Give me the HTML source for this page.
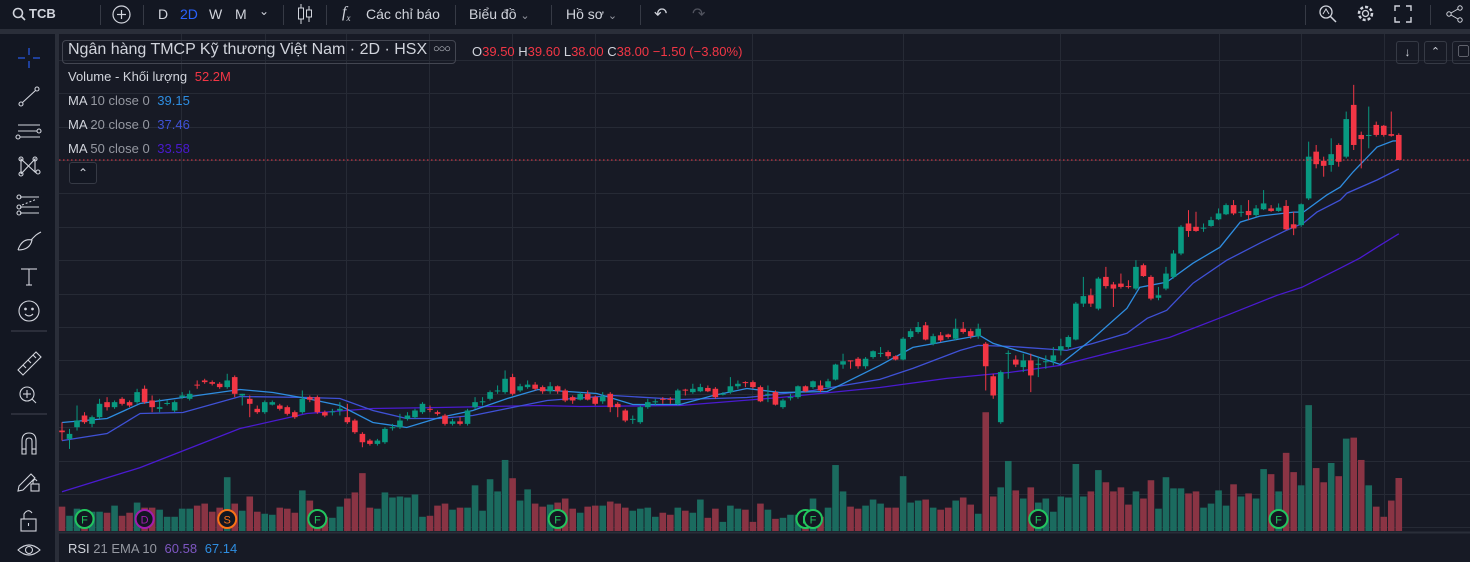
<!DOCTYPE html>
<html><head><meta charset="utf-8">
<style>
html,body{margin:0;padding:0;background:#131722;width:1470px;height:562px;overflow:hidden;font-family:"Liberation Sans","Noto Sans CJK SC",sans-serif;}
.t{position:absolute;white-space:nowrap;color:#d1d4dc;}
#top{position:absolute;left:0;top:0;width:1470px;height:29px;background:#131722;}
#gap{position:absolute;left:0;top:29px;width:1470px;height:5px;background:#2a2e39;}
#left{position:absolute;left:0;top:34px;width:55px;height:528px;background:#131722;}
#lsep{position:absolute;left:55px;top:34px;width:4px;height:528px;background:#2a2e39;}
.sep{position:absolute;top:5px;width:1px;height:20px;background:#363a45;}
</style></head><body>
<div id="top">
  <svg style="position:absolute;left:12px;top:7px" width="14" height="14"><circle cx="6" cy="6" r="4.5" fill="none" stroke="#d1d4dc" stroke-width="1.6"/><line x1="9.5" y1="9.5" x2="13" y2="13" stroke="#d1d4dc" stroke-width="1.6"/></svg>
  <span class="t" style="left:29px;top:6px;font-size:13px;font-weight:bold">TCB</span>
  <svg style="position:absolute;left:111px;top:4px" width="21" height="21"><circle cx="10.5" cy="10.5" r="8.5" fill="none" stroke="#d1d4dc" stroke-width="1.2"/><line x1="10.5" y1="6" x2="10.5" y2="15" stroke="#d1d4dc" stroke-width="1.2"/><line x1="6" y1="10.5" x2="15" y2="10.5" stroke="#d1d4dc" stroke-width="1.2"/></svg>
  <div class="sep" style="left:100px"></div>
  <div class="sep" style="left:143px"></div>
  <span class="t" style="left:158px;top:6px;font-size:14px">D</span>
  <span class="t" style="left:180px;top:6px;font-size:14px;color:#2962ff">2D</span>
  <span class="t" style="left:209px;top:6px;font-size:14px">W</span>
  <span class="t" style="left:235px;top:6px;font-size:14px">M</span>
  <span class="t" style="left:259px;top:4px;font-size:12px">⌄</span>
  <div class="sep" style="left:283px"></div>
  <svg style="position:absolute;left:296px;top:3px" width="18" height="22"><line x1="5" y1="1" x2="5" y2="21" stroke="#d1d4dc"/><rect x="2.5" y="5" width="5" height="11" fill="#131722" stroke="#d1d4dc"/><line x1="13" y1="3" x2="13" y2="19" stroke="#d1d4dc"/><rect x="10.5" y="7" width="5" height="7" fill="#131722" stroke="#d1d4dc"/></svg>
  <div class="sep" style="left:326px"></div>
  <span class="t" style="left:342px;top:4px;font-size:16px;font-style:italic;font-family:'Liberation Serif',serif">f<sub style="font-size:9px">x</sub></span>
  <span class="t" style="left:366px;top:6px;font-size:14px">Các chỉ báo</span>
  <div class="sep" style="left:455px"></div>
  <span class="t" style="left:469px;top:6px;font-size:14px">Biểu đồ <span style="color:#9598a1;font-size:11px">⌄</span></span>
  <div class="sep" style="left:551px"></div>
  <span class="t" style="left:566px;top:6px;font-size:14px">Hồ sơ <span style="color:#9598a1;font-size:11px">⌄</span></span>
  <div class="sep" style="left:640px"></div>
  <span class="t" style="left:654px;top:4px;font-size:16px">↶</span>
  <span class="t" style="left:692px;top:4px;font-size:16px;color:#50535e">↷</span>
  <div class="sep" style="left:1305px"></div>
  <svg style="position:absolute;left:1318px;top:4px" width="20" height="20"><circle cx="8" cy="8" r="6" fill="none" stroke="#d1d4dc" stroke-width="1.3"/><line x1="12.5" y1="12.5" x2="18" y2="18" stroke="#d1d4dc" stroke-width="1.5"/><polyline points="5,10 8,5 11,10" fill="none" stroke="#d1d4dc"/></svg>
  <svg style="position:absolute;left:1355px;top:3px" width="21" height="21"><circle cx="10.5" cy="10.5" r="6.5" fill="none" stroke="#d1d4dc" stroke-width="2.5" stroke-dasharray="3 2"/><circle cx="10.5" cy="10.5" r="3" fill="none" stroke="#d1d4dc" stroke-width="1.3"/></svg>
  <svg style="position:absolute;left:1394px;top:5px" width="18" height="18"><path d="M1 6V1h5M12 1h5v5M17 12v5h-5M6 17H1v-5" fill="none" stroke="#d1d4dc" stroke-width="1.4"/></svg>
  <div class="sep" style="left:1430px"></div>
  <svg style="position:absolute;left:1445px;top:4px" width="20" height="20"><circle cx="15" cy="4" r="2.2" fill="none" stroke="#d1d4dc"/><circle cx="4" cy="10" r="2.2" fill="none" stroke="#d1d4dc"/><circle cx="15" cy="16" r="2.2" fill="none" stroke="#d1d4dc"/><line x1="6" y1="9" x2="13" y2="5" stroke="#d1d4dc"/><line x1="6" y1="11" x2="13" y2="15" stroke="#d1d4dc"/></svg>
</div>
<div id="gap"></div>
<div id="left">
<svg width="55" height="528" style="position:absolute;left:0;top:0" fill="none" stroke="#d1d4dc" stroke-width="1.1">
  <g stroke="#2962ff"><line x1="29" y1="14" x2="29" y2="21"/><line x1="29" y1="27" x2="29" y2="34"/><line x1="18" y1="24" x2="25" y2="24"/><line x1="33" y1="24" x2="40" y2="24"/></g>
  <g><circle cx="21" cy="70" r="2"/><circle cx="37" cy="55" r="2"/><line x1="22.5" y1="68.5" x2="35.5" y2="56.5"/></g>
  <g><line x1="18" y1="91" x2="40" y2="91"/><line x1="18" y1="97" x2="37" y2="97"/><line x1="20" y1="103" x2="40" y2="103"/><circle cx="39" cy="97" r="2"/><circle cx="18" cy="103" r="2"/></g>
  <g><circle cx="21" cy="125" r="2"/><circle cx="35" cy="125" r="2"/><circle cx="21" cy="140" r="2"/><circle cx="38" cy="138" r="2"/><polyline points="21,140 21,125 35,138 35,125 21,140"/></g>
  <g><line x1="20" y1="163" x2="39" y2="163"/><line x1="20" y1="173" x2="39" y2="173"/><line x1="20" y1="179" x2="39" y2="179"/><circle cx="19" cy="163" r="2"/><circle cx="19" cy="173" r="2"/><circle cx="19" cy="179" r="2"/><line x1="22" y1="171" x2="37" y2="165" stroke-dasharray="2 2"/></g>
  <g><path d="M18 216 Q22 204 32 206 Q30 216 18 216 M31 206 L35 202 Q37 200 41 198"/></g>
  <g><line x1="21" y1="235" x2="37" y2="235"/><line x1="29" y1="235" x2="29" y2="251"/><line x1="26" y1="251" x2="32" y2="251"/></g>
  <g><circle cx="29" cy="277" r="10"/><circle cx="25.5" cy="275" r="0.8" fill="#d1d4dc"/><circle cx="32.5" cy="275" r="0.8" fill="#d1d4dc"/><path d="M25 280 Q29 284 33 280"/></g>
  <line x1="11" y1="297" x2="47" y2="297" stroke="#434651"/>
  <g><path d="M18 336 L36 318 L41 323 L23 341 Z"/><line x1="23" y1="331" x2="26" y2="334"/><line x1="28" y1="326" x2="31" y2="329"/><line x1="33" y1="321" x2="36" y2="324"/></g>
  <g><circle cx="27" cy="360" r="7"/><line x1="32" y1="365" x2="36" y2="369"/><line x1="27" y1="356" x2="27" y2="364"/><line x1="23" y1="360" x2="31" y2="360"/></g>
  <line x1="11" y1="380" x2="47" y2="380" stroke="#434651"/>
  <g><path d="M22 420 V407 Q22 399 29 399 Q36 399 36 407 V420 H32 V407 Q32 404 29 404 Q26 404 26 407 V420 Z"/><line x1="22" y1="415" x2="26" y2="415"/><line x1="32" y1="415" x2="36" y2="415"/></g>
  <g><path d="M19 452 L31 440 L35 444 L23 456 L18 457 Z"/><rect x="31" y="450" width="8" height="7"/><path d="M33 450 V447 Q35 444 37 447"/></g>
  <g><rect x="21" y="485" width="15" height="12"/><path d="M24 485 V480 Q28 474 32 479"/><line x1="28.5" y1="489" x2="28.5" y2="492"/></g>
  <g><path d="M18 516 Q29 506 40 516 Q29 526 18 516 Z"/><circle cx="29" cy="516" r="3.5"/></g>
</svg>
</div>
<div id="lsep"></div>
<svg id="chart" style="position:absolute;left:0;top:0" width="1470" height="562"></svg>

<div class="t" style="left:62px;top:40px;width:392px;height:22px;border:1px solid #434651;border-radius:4px;"></div>
<span class="t" style="left:68px;top:41px;font-size:16px;color:#d1d4dc">Ngân hàng TMCP Kỹ thương Việt Nam · 2D · HSX</span>
<span class="t" style="left:433px;top:43px;font-size:11px;letter-spacing:-1px">○○○</span>
<span class="t" style="left:472px;top:44px;font-size:13px">O<span style="color:#f23645">39.50</span> H<span style="color:#f23645">39.60</span> L<span style="color:#f23645">38.00</span> C<span style="color:#f23645">38.00</span> <span style="color:#f23645">−1.50 (−3.80%)</span></span>
<span class="t" style="left:68px;top:69px;font-size:13px">Volume - Khối lượng <span style="color:#f23645;margin-left:4px">52.2M</span></span>
<span class="t" style="left:68px;top:93px;font-size:13px">MA <span style="color:#9598a1">10 close 0</span> <span style="color:#2e8de0;margin-left:4px">39.15</span></span>
<span class="t" style="left:68px;top:117px;font-size:13px">MA <span style="color:#9598a1">20 close 0</span> <span style="color:#3f51d6;margin-left:4px">37.46</span></span>
<span class="t" style="left:68px;top:141px;font-size:13px">MA <span style="color:#9598a1">50 close 0</span> <span style="color:#4a1ad0;margin-left:4px">33.58</span></span>
<div class="t" style="left:69px;top:162px;width:26px;height:20px;border:1px solid #363a45;border-radius:3px;background:#131722;text-align:center;font-size:12px;line-height:20px">⌃</div>
<div class="t" style="left:1396px;top:41px;width:21px;height:21px;border:1px solid #363a45;border-radius:3px;text-align:center;font-size:12px;line-height:21px">↓</div>
<div class="t" style="left:1424px;top:41px;width:21px;height:21px;border:1px solid #363a45;border-radius:3px;text-align:center;font-size:11px;line-height:21px">⌃</div>
<div class="t" style="left:1452px;top:41px;width:21px;height:21px;border:1px solid #363a45;border-radius:3px;text-align:center;font-size:11px;line-height:21px">▢</div>
<span class="t" style="left:68px;top:541px;font-size:13px">RSI <span style="color:#9598a1">21 EMA 10</span> <span style="color:#7e57c2;margin-left:4px">60.58</span> <span style="color:#2e8de0;margin-left:4px">67.14</span></span>

<script>
const opens=[21.8,21.3,22.0,22.7,22.2,22.6,23.5,23.2,23.7,23.5,23.5,24.3,23.6,23.1,23.4,23.0,23.8,23.7,24.55,24.8,24.7,24.6,24.4,25.0,23.9,23.7,23.1,22.9,23.35,23.3,23.2,22.9,22.9,23.8,23.8,22.9,22.9,23.0,22.6,22.4,21.6,21.2,21.0,21.1,21.95,22.0,22.5,22.6,22.9,23.1,22.9,22.7,22.2,22.35,22.2,23.2,23.5,23.7,24.15,24.1,25.0,24.2,24.4,24.55,24.4,24.15,24.45,24.2,23.8,23.65,24.0,23.8,23.55,24.0,23.4,23.0,22.45,22.3,23.2,23.5,23.7,23.7,23.4,24.25,24.1,24.15,24.35,24.3,23.95,24.1,24.45,24.7,24.7,24.4,23.95,24.1,23.2,23.75,23.8,24.45,24.4,24.5,24.4,24.85,25.75,26.0,26.1,25.65,26.2,26.4,26.5,26.25,26.05,27.4,27.7,28.1,27.0,27.5,27.55,27.3,27.9,27.75,27.45,27.0,25.05,22.3,26.4,26.05,25.6,26.0,25.75,25.9,25.95,26.6,26.8,27.25,29.4,29.9,29.1,31.0,30.55,30.6,30.45,30.3,31.7,31.0,29.75,30.3,31.0,32.4,34.2,34.0,33.9,34.05,34.45,34.75,35.3,34.85,34.95,34.7,35.05,35.1,34.95,35.25,34.15,34.1,35.7,38.5,37.95,37.7,38.9,38.2,41.3,39.5,39.45,40.1,40.05,39.55,39.5];
const closes=[21.7,21.6,22.4,22.3,22.6,23.4,23.2,23.5,23.4,23.3,24.1,23.5,23.2,23.2,23.45,23.5,23.9,24.0,24.5,24.7,24.6,24.4,24.8,24.0,24.0,23.4,22.9,23.5,23.5,23.1,22.8,22.6,23.7,23.65,22.9,22.7,22.95,23.1,22.3,21.7,21.1,21.0,21.2,21.9,22.0,22.4,22.7,23.0,23.4,23.05,22.8,22.2,22.35,22.2,23.0,23.5,23.55,24.1,24.2,24.9,24.0,24.45,24.55,24.3,24.15,24.45,24.15,23.6,23.6,24.0,23.65,23.4,23.85,23.2,23.2,22.4,22.5,23.2,23.5,23.55,23.65,23.65,24.2,24.2,24.3,24.4,24.15,23.8,24.0,24.45,24.6,24.65,24.4,23.55,24.0,23.35,23.6,23.8,24.45,24.15,24.75,24.2,24.75,25.75,25.95,25.95,25.65,26.1,26.55,26.45,26.25,26.05,27.3,27.75,28.0,27.25,27.45,27.2,27.4,27.9,27.7,27.45,27.9,25.65,23.9,25.3,26.45,25.75,26.0,25.1,25.8,25.95,26.3,26.85,27.4,29.4,29.85,29.4,30.9,30.45,30.3,30.4,30.4,31.6,31.05,29.7,29.9,31.2,32.4,34.0,33.75,33.75,33.95,34.4,34.8,35.3,34.8,34.9,34.7,35.1,35.4,34.95,35.15,33.85,33.9,35.35,38.2,37.75,37.65,38.35,37.9,40.45,38.9,39.25,39.5,39.5,39.5,39.45,38.0];
const highs=[22.3,21.9,23.3,22.9,22.7,23.7,23.8,23.6,23.8,23.6,24.3,24.5,23.9,23.7,23.6,23.6,24.1,24.2,24.8,24.9,24.8,24.7,25.2,25.1,24.0,23.9,23.3,23.6,23.6,23.4,23.3,23.0,24.2,23.9,23.9,23.0,23.1,23.5,23.4,22.5,21.7,21.3,21.3,22.0,22.2,22.8,22.9,23.1,23.5,23.3,23.0,22.8,22.5,22.6,23.1,23.8,23.8,24.2,24.5,25.4,25.2,24.6,24.8,24.7,24.5,24.7,24.5,24.3,23.9,24.1,24.2,23.9,24.1,24.1,23.5,23.1,22.7,23.3,23.7,23.7,23.8,23.8,24.3,24.3,24.6,24.6,24.5,24.4,24.1,25.0,24.8,24.75,24.8,24.5,24.5,24.2,23.7,24.0,24.5,24.5,24.8,24.8,24.9,25.8,26.4,26.0,26.2,26.2,26.6,26.8,26.6,26.3,27.4,27.9,28.3,28.3,27.6,27.7,27.6,28.5,28.3,27.9,28.2,27.1,25.2,25.4,26.6,26.3,26.4,26.4,26.2,26.3,26.8,27.3,27.5,29.5,31.0,30.3,31.0,31.6,30.7,31.2,30.8,32.0,31.8,31.1,30.4,31.6,32.6,34.1,35.0,34.9,34.2,34.6,35.1,35.4,35.6,35.3,35.6,35.3,36.2,35.3,35.4,35.6,34.9,35.4,39.1,38.9,38.2,39.3,39.0,40.9,42.5,39.7,41.2,40.3,40.1,40.9,39.6];
const lows=[21.2,20.7,21.8,22.2,22.0,22.5,23.0,23.1,23.3,23.2,23.4,23.4,22.9,22.9,23.3,22.9,23.7,23.6,24.3,24.6,24.5,24.3,24.3,23.8,23.3,22.6,22.8,22.8,23.3,23.0,22.7,22.5,22.8,23.5,22.8,22.6,22.7,22.7,22.2,21.6,20.8,20.9,20.9,21.0,21.8,21.9,22.4,22.5,22.8,22.9,22.7,22.1,22.1,22.1,22.1,23.1,23.3,23.6,24.0,24.0,23.9,24.1,24.3,24.2,24.0,24.0,24.0,23.5,23.4,23.6,23.6,23.3,23.4,22.9,22.6,22.3,22.2,22.2,23.1,23.3,23.4,23.4,23.3,23.9,24.0,24.1,24.1,23.7,23.9,24.0,24.3,24.4,24.3,23.5,23.5,23.3,23.1,23.6,23.7,24.1,24.3,24.1,24.3,24.8,25.5,25.5,25.5,25.5,26.1,26.2,26.1,26.0,26.0,27.3,27.6,27.2,26.9,27.1,27.3,27.2,27.6,27.3,27.3,24.2,23.7,22.2,24.9,25.6,25.3,24.1,25.0,25.5,25.7,26.3,26.7,27.2,29.2,29.2,29.0,30.3,29.2,30.3,30.3,30.2,31.0,29.6,29.6,30.2,30.9,32.3,33.4,33.7,33.7,34.0,34.4,34.7,34.7,34.6,34.4,34.6,35.0,34.9,34.9,33.8,33.5,34.0,35.6,37.5,37.0,37.3,37.6,38.1,38.6,37.5,38.7,39.4,39.4,39.4,38.0];
const volumes=[24,15,22,18,19,19,18,25,15,18,28,23,23,21,14,14,22,22,25,27,19,23,53,27,20,34,19,17,16,23,22,18,40,30,18,14,13,24,32,38,57,23,22,38,33,34,33,36,14,15,25,27,21,23,23,45,20,51,39,70,52,30,41,27,24,26,28,32,22,18,24,25,25,29,27,23,20,22,23,14,18,16,23,20,18,31,13,22,9,25,22,21,9,27,21,12,13,16,16,18,32,14,23,65,39,24,22,25,31,27,23,23,54,28,30,31,23,21,23,30,33,26,17,117,34,43,69,40,32,43,28,32,19,34,33,66,34,39,60,48,39,43,26,39,32,50,22,53,42,42,37,39,23,27,40,25,46,34,37,32,61,56,39,77,58,45,124,62,48,67,54,91,92,70,45,24,14,30,52.2];
const ma10Idx=[0,6,10.4,16.1,23.7,28.1,32.6,37,41.4,45.9,50.3,54.7,59.3,63.4,71.2,76,82.3,86.7,91.2,95.6,101.9,108.9,113.3,122.2,124,128.5,132.9,137.3,141.8,143.5,147.1,150.6,154.2,156.9,159.5,164,165.3,168.4,170.2,171.9,175.1,177.2,178];
const ma10Val=[22.28,22.52,23.42,23.78,24.26,24.08,23.72,23.3,22.28,21.98,22.58,23.0,23.72,24.26,24.02,23.36,23.36,23.9,24.32,24.08,24.14,25.7,26.78,27.5,27.02,26.42,25.76,27.32,29.12,30.38,30.68,31.82,32.78,34.28,34.64,34.88,34.88,35.9,36.38,37.28,38.78,39.14,39.15];
const ma20Idx=[0,6,10.4,16.1,23.7,32.6,37,41.4,45.9,50.3,54.7,59.3,64.6,73.4,82.3,91.2,100,108.9,113.3,119.6,122,126.2,133.8,137.3,141.8,144.5,147.1,150.6,155.1,159.5,163.1,165.3,167.1,170.2,171.1,175.1,178];
const ma20Val=[21.2,21.62,22.82,22.88,23.84,23.78,23.72,23.0,22.52,22.52,22.7,23.12,23.6,23.9,23.66,23.78,24.2,24.86,25.52,26.6,26.9,26.84,26.6,27.02,27.62,28.52,29.0,30.62,32.0,33.02,33.8,34.22,34.88,35.6,36.02,36.8,37.46];
const ma50Idx=[0,10.4,23.7,32.6,41.4,50.3,63.6,69,82.3,95.6,108.9,117.8,126.2,132.9,141.8,147.5,155.1,161.8,165.1,170.2,172.8,175.1,178];
const ma50Val=[18.14,19.58,21.92,22.82,23.12,23.18,23.3,23.24,23.3,23.78,24.38,24.92,25.28,25.7,26.72,27.38,28.7,29.9,30.38,31.52,32.12,32.78,33.58];
const badgeIdx=[3,11,22,34,66,99,100,130,162];
const badgeLbl=['F','D','S','F','F','F','F','F','F'];
const badgeCol=['#22c55e','#a21caf','#f97316','#22c55e','#22c55e','#22c55e','#22c55e','#22c55e','#22c55e'];
const lastPrice=38.00;

const NS='http://www.w3.org/2000/svg';
const svg=document.getElementById('chart');
const X=i=>62+i*7.51;
const Y=p=>160-(p-38)*16.7;
const VBASE=531, VY=v=>VBASE-v*1.015;
function mk(tag,attrs,parent){const e=document.createElementNS(NS,tag);for(const k in attrs)e.setAttribute(k,attrs[k]);(parent||svg).appendChild(e);return e;}
const bg=mk('rect',{x:59,y:34,width:1411,height:528,fill:'#171a25'});


const grid=mk('g',{stroke:'#262a35','stroke-width':1});


for(let p=12;p<=46;p+=2){const y=Math.round(Y(p))+0.5;if(y>34&&y<533)mk('line',{x1:59,x2:1470,y1:y,y2:y},grid);}
[181,265,346,429,512,595,752,903,1060,1219,1301,1384].forEach(x=>mk('line',{x1:x+0.5,x2:x+0.5,y1:34,y2:562},grid));
const vg=mk('g',{});


volumes.forEach((v,i)=>{
  const up=closes[i]>=opens[i];
  const r=mk('rect',{x:X(i)-3.3,y:VY(v),width:6.6,height:VBASE-VY(v),fill:up?'#1b6b5f':'#8a3444'},vg);
  
  
});
const rs=mk('rect',{x:59,y:532,width:1411,height:30,fill:'#171a25'});


mk('line',{x1:59,x2:1470,y1:532.5,y2:532.5,stroke:'#2a2e39','stroke-width':2});
function line(idx,val,color,name){
  const pl=mk('polyline',{points:idx.map((k,j)=>X(k).toFixed(1)+','+Y(val[j]).toFixed(1)).join(' '),fill:'none',stroke:color,'stroke-width':1.3});
  
  
}
line(ma50Idx,ma50Val,'#4a1ad0','ma50-line');
line(ma20Idx,ma20Val,'#3f51d6','ma20-line');
line(ma10Idx,ma10Val,'#2e8de0','ma10-line');
const cg=mk('g',{});


opens.forEach((o,i)=>{
  const c=closes[i],up=c>=o,col=up?'#089981':'#f23645',x=X(i);
  const w=mk('line',{x1:x,x2:x,y1:Y(highs[i]),y2:Y(lows[i]),stroke:col,'stroke-width':1},cg);
  
  
  const top=Y(Math.max(o,c)),h=Math.max(1,Math.abs(Y(o)-Y(c)));
  const b=mk('rect',{x:x-2.8,y:top,width:5.6,height:h,fill:col},cg);
  
  
});
const lp=mk('line',{x1:59,x2:1470,y1:Y(lastPrice),y2:Y(lastPrice),stroke:'#f23645','stroke-width':1,'stroke-dasharray':'1.5 2.5'});


badgeIdx.forEach((k,j)=>{
  const g=mk('g',{});
  
  
  mk('circle',{cx:X(k),cy:519,r:9,fill:'#131722',stroke:badgeCol[j],'stroke-width':2},g);
  const t=mk('text',{x:X(k),y:523.5,'text-anchor':'middle','font-size':11,fill:badgeCol[j],'font-family':'Liberation Sans, sans-serif'},g);
  t.textContent=badgeLbl[j];
});
</script>
</body></html>
